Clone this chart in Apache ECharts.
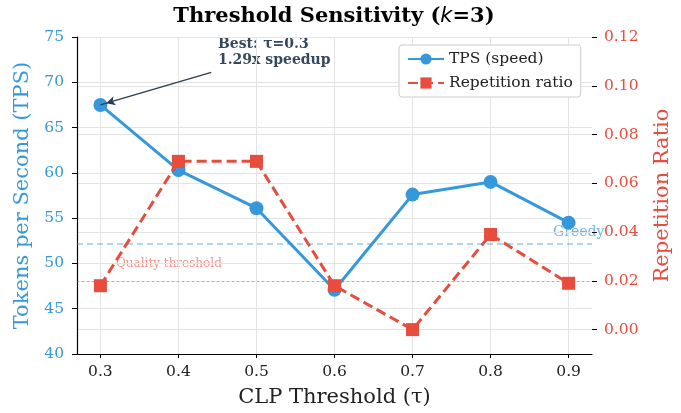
<!DOCTYPE html>
<html><head><meta charset="utf-8">
<script src="https://cdn.jsdelivr.net/npm/echarts@6/dist/echarts.min.js"></script>
<style>html,body{margin:0;padding:0;background:#fff}#c{width:681px;height:413px}</style>
</head><body><div id="c"></div>
<script>
const thresholds = [0.3, 0.4, 0.5, 0.6, 0.7, 0.8, 0.9];
const tpsValues = [67.5, 60.3, 56.1, 47.1, 57.6, 59.0, 54.5];
const repValues = [0.018, 0.069, 0.069, 0.018, 0.0, 0.039, 0.019];
const xTicks = [0.3, 0.4, 0.5, 0.6, 0.7, 0.8, 0.9];
const leftTicks = [40, 45, 50, 55, 60, 65, 70, 75];
const rightTicks = [0.00, 0.02, 0.04, 0.06, 0.08, 0.10, 0.12];
const greedyTPS = 52.2;
const qualityThreshold = 0.02;
const bestPoint = [0.3, 67.5];
const arrowStart = [0.442, 71.1];

const BLUE = '#3498db', RED = '#e74c3c';
const SERIF = 'DejaVu Serif';
const chart = echarts.init(document.getElementById('c'), null, {renderer: 'canvas'});

const option = {
  animation: false,
  backgroundColor: '#fff',
  textStyle: {fontFamily: SERIF},
  grid: {left: 77, right: 89, top: 37, bottom: 59, containLabel: false},
  legend: {
    orient: 'vertical', left: 399, top: 45,
    padding: [6, 8], itemGap: 8, itemWidth: 36, itemHeight: 14,
    backgroundColor: '#fff', borderColor: '#cccccc', borderWidth: 1, borderRadius: 3,
    textStyle: {fontFamily: SERIF, fontSize: 15.5, color: '#222'},
    data: ['TPS (speed)', 'Repetition ratio']
  },
  xAxis: {
    type: 'value', min: 0.27, max: 0.93,
    name: 'CLP Threshold (τ)', nameLocation: 'middle', nameGap: 33,
    nameTextStyle: {fontFamily: SERIF, fontSize: 21, color: '#222'},
    axisLine: {show: true, onZero: false, lineStyle: {color: '#000', width: 1.2}},
    axisTick: {show: true, length: 4, customValues: xTicks, lineStyle: {color: '#000'}},
    axisLabel: {customValues: xTicks, formatter: v => v.toFixed(1), fontFamily: SERIF, fontSize: 15.5, color: '#222', margin: 10},
    splitLine: {show: true, lineStyle: {color: '#e3e3e3', width: 1}}
  },
  yAxis: [
    {
      type: 'value', min: 40, max: 75, interval: 5, position: 'left',
      name: 'Tokens per Second (TPS)', nameLocation: 'middle', nameGap: 44, nameRotate: 90,
      nameTextStyle: {fontFamily: SERIF, fontSize: 21, color: BLUE},
      axisLine: {show: true, onZero: false, lineStyle: {color: '#000', width: 1.2}},
      axisTick: {show: true, length: 5, lineStyle: {color: '#000'}},
      axisLabel: {fontFamily: SERIF, fontSize: 15.5, color: BLUE, margin: 13},
      splitLine: {show: true, lineStyle: {color: '#e3e3e3', width: 1}}
    },
    {
      type: 'value', min: -0.01, max: 0.12, position: 'right',
      name: 'Repetition Ratio', nameLocation: 'middle', nameGap: 60, nameRotate: 90,
      nameTextStyle: {fontFamily: SERIF, fontSize: 21, color: RED},
      axisLine: {show: false, onZero: false},
      axisTick: {show: true, length: 5, customValues: rightTicks, lineStyle: {color: '#000'}},
      axisLabel: {customValues: rightTicks, formatter: v => v.toFixed(2), fontFamily: SERIF, fontSize: 15.5, color: RED, margin: 12},
      splitLine: {show: true, lineStyle: {color: '#e3e3e3', width: 1}}
    }
  ],
  series: [
    {
      name: 'TPS (speed)', type: 'line', yAxisIndex: 0, z: 3,
      data: thresholds.map((x, i) => [x, tpsValues[i]]),
      symbol: 'circle', symbolSize: 14,
      itemStyle: {color: BLUE},
      lineStyle: {color: BLUE, width: 3},
      markLine: {
        silent: true, animation: false, symbol: 'none',
        label: {show: false},
        data: [
          {yAxis: greedyTPS, lineStyle: {color: BLUE, opacity: 0.5, type: [6, 4], width: 1.5}},
          [
            {coord: arrowStart, symbol: 'none', lineStyle: {color: '#2c3e50', width: 1.3, type: 'solid'}},
            {coord: bestPoint, symbol: 'arrow', symbolSize: [7, 9], symbolOffset: [0, 6]}
          ]
        ]
      }
    },
    {
      name: 'Repetition ratio', type: 'line', yAxisIndex: 1, z: 4,
      data: thresholds.map((x, i) => [x, repValues[i]]),
      symbol: 'rect', symbolSize: 13,
      itemStyle: {color: RED},
      lineStyle: {color: RED, width: 3, type: [10, 5]},
      markLine: {
        silent: true, animation: false, symbol: 'none',
        label: {show: false},
        data: [
          {yAxis: qualityThreshold, lineStyle: {color: RED, opacity: 0.5, type: [2, 3], width: 1}}
        ]
      }
    }
  ],
  graphic: [
    {
      type: 'text', x: 334, y: 6,
      style: {
        text: '{b|Threshold Sensitivity (}{i|k}{b|=3)}', align: 'center',
        rich: {
          b: {fontFamily: SERIF, fontWeight: 'bold', fontSize: 21, fill: '#000'},
          i: {fontFamily: 'DejaVu Sans', fontStyle: 'italic', fontSize: 21, fill: '#000'}
        }
      }
    },
    {
      type: 'text', x: 218, y: 36,
      style: {text: 'Best: τ=0.3\n1.29x speedup', fontFamily: SERIF, fontWeight: 'bold', fontSize: 14, lineHeight: 16, fill: '#34495e'}
    },
    {
      type: 'text', x: 553, y: 225,
      style: {text: 'Greedy', fontFamily: SERIF, fontSize: 14, fill: BLUE, opacity: 0.7}
    },
    {
      type: 'text', x: 116, y: 258,
      style: {text: 'Quality threshold', fontFamily: SERIF, fontSize: 12, fill: RED, opacity: 0.6}
    }
  ]
};
chart.setOption(option);
</script>
</body></html>
